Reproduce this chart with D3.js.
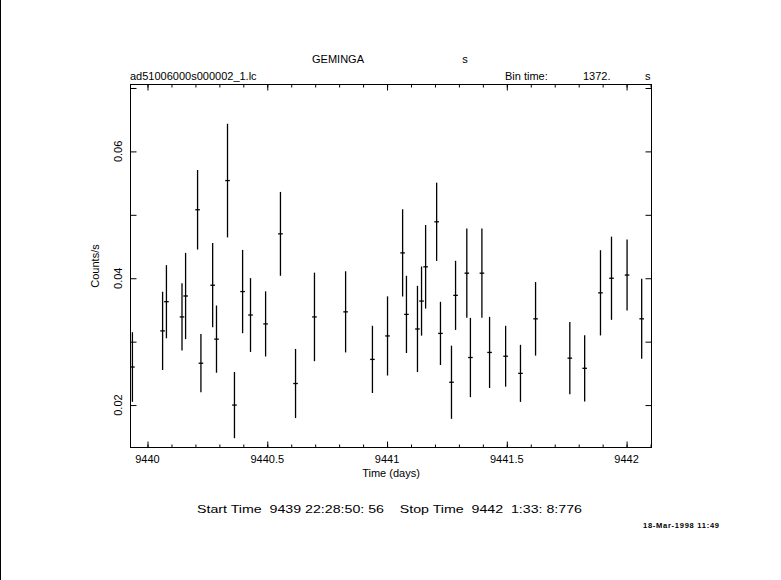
<!DOCTYPE html>
<html>
<head>
<meta charset="utf-8">
<script src="https://cdn.jsdelivr.net/npm/d3@7"></script>
<style>
  html, body { margin: 0; padding: 0; background: #ffffff; }
  svg { display: block; }
  text { font-family: "Liberation Sans", Arial, sans-serif; fill: #000; }
</style>
</head>
<body>
<svg id="chart" width="781" height="580"></svg>
<script>
// ---- Data ----
const times = [9439.937, 9440.063, 9440.079, 9440.144, 9440.159, 9440.209, 9440.223, 9440.272,
  9440.288, 9440.334, 9440.363, 9440.397, 9440.430, 9440.493, 9440.555, 9440.618, 9440.697,
  9440.827, 9440.939, 9441.002, 9441.065, 9441.081, 9441.127, 9441.144, 9441.161, 9441.207,
  9441.223, 9441.269, 9441.286, 9441.333, 9441.348, 9441.396, 9441.428, 9441.495, 9441.557,
  9441.620, 9441.763, 9441.825, 9441.891, 9441.937, 9442.002, 9442.063];
const rates = [0.0260, 0.0317, 0.0363, 0.0339, 0.0372, 0.0508, 0.0266, 0.0389, 0.0304, 0.0554,
  0.0200, 0.0379, 0.0342, 0.0328, 0.0470, 0.0234, 0.0339, 0.0347, 0.0272, 0.0309, 0.0440,
  0.0343, 0.0320, 0.0364, 0.0418, 0.0489, 0.0313, 0.0236, 0.0373, 0.0408, 0.0275, 0.0408,
  0.0283, 0.0277, 0.0250, 0.0336, 0.0274, 0.0258, 0.0377, 0.0400, 0.0405, 0.0336];
const errors = [0.00549, 0.00617, 0.00577, 0.00530, 0.00680, 0.00627, 0.00459, 0.00664, 0.00530,
  0.00896, 0.00522, 0.00656, 0.00582, 0.00514, 0.00661, 0.00545, 0.00698, 0.00640, 0.00530,
  0.00624, 0.00688, 0.00609, 0.00680, 0.00545, 0.00659, 0.00617, 0.00498, 0.00577, 0.00545,
  0.00704, 0.00625, 0.00704, 0.00561, 0.00480, 0.00450, 0.00580, 0.00569, 0.00522, 0.00672,
  0.00656, 0.00559, 0.00630];
const binTimeSec = 1372;
const xDomain = [9439.929, 9442.104];
const yDomain = [0.01331, 0.07055];
const xMajorTicks = [9440, 9440.5, 9441, 9441.5, 9442];
const xTickLabels = ["9440", "9440.5", "9441", "9441.5", "9442"];
const yMajorTicks = [0.02, 0.04, 0.06];
const yTickLabels = ["0.02", "0.04", "0.06"];
const yMinorTicks = [0.02, 0.03, 0.04, 0.05, 0.06, 0.07];

const titleText = "GEMINGA";
const titleUnit = "s";
const fileName = "ad51006000s000002_1.lc";
const binLabel = "Bin time:";
const binValue = "1372.";
const binUnit = "s";
const xLabel = "Time (days)";
const yLabel = "Counts/s";
const timesText = "Start Time  9439 22:28:50: 56    Stop Time  9442  1:33: 8:776";
const dateText = "18-Mar-1998 11:49";

// ---- Layout ----
const L = 130.5, R = 651.5, T = 84.5, B = 447.5;
const svg = d3.select("#chart");
svg.append("rect").attr("x", 0).attr("y", 0).attr("width", 781).attr("height", 580).attr("fill", "#fff");
svg.append("line").attr("x1", 0.5).attr("x2", 0.5).attr("y1", 0).attr("y2", 580)
  .attr("stroke", "#000").attr("stroke-width", 1);

const x = d3.scaleLinear().domain(xDomain).range([L, R]);
const y = d3.scaleLinear().domain(yDomain).range([B, T]);

const xMinor = d3.range(9440.0, 9442.11, 0.1).map(v => +v.toFixed(1));

function styleAxis(g) {
  g.select(".domain").remove();
  g.selectAll("line").attr("stroke", "#000").attr("stroke-width", 1);
  g.selectAll("text").remove();
}

// bottom minor + major (inward)
svg.append("g").attr("transform", `translate(0,${B})`)
  .call(d3.axisBottom(x).tickValues(xMinor).tickSizeInner(-3).tickSizeOuter(0)).call(styleAxis);
svg.append("g").attr("transform", `translate(0,${B})`)
  .call(d3.axisBottom(x).tickValues(xMajorTicks).tickSizeInner(-6).tickSizeOuter(0)).call(styleAxis);
// top
svg.append("g").attr("transform", `translate(0,${T})`)
  .call(d3.axisTop(x).tickValues(xMinor).tickSizeInner(-3).tickSizeOuter(0)).call(styleAxis);
svg.append("g").attr("transform", `translate(0,${T})`)
  .call(d3.axisTop(x).tickValues(xMajorTicks).tickSizeInner(-6).tickSizeOuter(0)).call(styleAxis);
// left and right
svg.append("g").attr("transform", `translate(${L},0)`)
  .call(d3.axisLeft(y).tickValues(yMinorTicks).tickSizeInner(-6).tickSizeOuter(0)).call(styleAxis);
svg.append("g").attr("transform", `translate(${R},0)`)
  .call(d3.axisRight(y).tickValues(yMinorTicks).tickSizeInner(-6).tickSizeOuter(0)).call(styleAxis);

// frame
svg.append("rect").attr("x", L).attr("y", T).attr("width", R - L).attr("height", B - T)
  .attr("fill", "none").attr("stroke", "#000").attr("stroke-width", 1);

// x tick labels
svg.selectAll(".xl").data(xMajorTicks).enter().append("text")
  .attr("x", d => x(d)).attr("y", 463).attr("text-anchor", "middle")
  .attr("font-size", 11).text((d, i) => xTickLabels[i]);

// y tick labels (rotated)
svg.selectAll(".yl").data(yMajorTicks).enter().append("text")
  .attr("transform", d => `translate(122,${y(d)}) rotate(-90)`)
  .attr("text-anchor", "middle").attr("font-size", 11).text((d, i) => yTickLabels[i]);

// axis labels
svg.append("text").attr("x", 391).attr("y", 477).attr("text-anchor", "middle")
  .attr("font-size", 11).text(xLabel);
svg.append("text").attr("transform", "translate(99,266) rotate(-90)")
  .attr("text-anchor", "middle").attr("font-size", 11).text(yLabel);

// header texts
svg.append("text").attr("x", 338).attr("y", 63).attr("text-anchor", "middle").attr("font-size", 11).text(titleText);
svg.append("text").attr("x", 465).attr("y", 63).attr("text-anchor", "middle").attr("font-size", 11).text(titleUnit);
svg.append("text").attr("x", 130).attr("y", 80).attr("font-size", 11).text(fileName);
svg.append("text").attr("x", 505).attr("y", 80).attr("font-size", 11).text(binLabel);
svg.append("text").attr("x", 583).attr("y", 80).attr("font-size", 11).text(binValue);
svg.append("text").attr("x", 645).attr("y", 80).attr("font-size", 11).text(binUnit);

// footer texts
svg.append("text").attr("x", 197).attr("y", 513).attr("font-size", 11)
  .attr("textLength", 385).attr("lengthAdjust", "spacingAndGlyphs")
  .style("white-space", "pre").text(timesText);
svg.append("text").attr("x", 643).attr("y", 528).attr("font-size", 7.5).attr("font-weight", "bold")
  .attr("textLength", 76).text(dateText);

// error bars
const halfBin = binTimeSec / 2 / 86400;
const pts = times.map((t, i) => ({ t, r: rates[i], e: errors[i] }));
const g = svg.append("g").attr("stroke", "#000").attr("stroke-width", 1.3);
g.selectAll(".ev").data(pts).enter().append("line")
  .attr("x1", d => x(d.t)).attr("x2", d => x(d.t))
  .attr("y1", d => y(d.r - d.e)).attr("y2", d => y(d.r + d.e));
g.selectAll(".eh").data(pts).enter().append("line")
  .attr("x1", d => Math.min(x(d.t - halfBin), x(d.t) - 2.3)).attr("x2", d => Math.max(x(d.t + halfBin), x(d.t) + 2.3))
  .attr("y1", d => y(d.r)).attr("y2", d => y(d.r));
</script>
</body>
</html>
